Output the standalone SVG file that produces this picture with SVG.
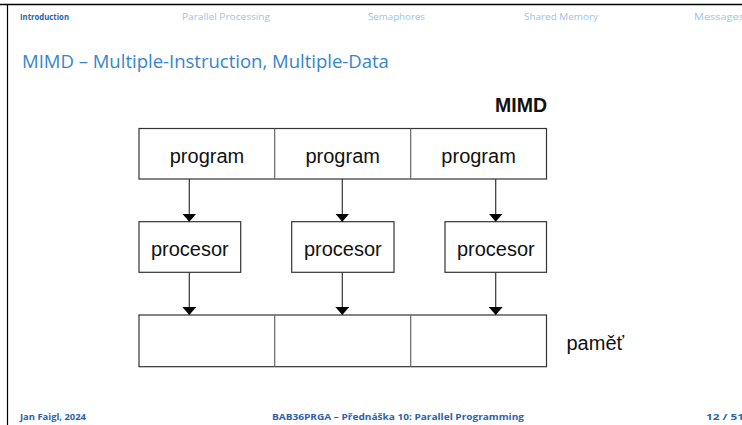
<svg xmlns="http://www.w3.org/2000/svg" width="742" height="425" viewBox="0 0 742 425">
<style>
.hdr{font-family:"Open Sans","DejaVu Sans",sans-serif;font-size:9px;fill:#9cc3e8}
.cur{fill:#2a64ad}
.ttl{font-family:"Open Sans","DejaVu Sans",sans-serif;font-size:18.5px;fill:#3584d1}
.ftr{font-family:"Open Sans","DejaVu Sans",sans-serif;font-size:9px;fill:#2a64ad;font-weight:bold}
.box{fill:#fff;stroke:#333;stroke-width:1.2}
.div{stroke:#666;stroke-width:1.2}
.lbl{font-family:"Liberation Sans",Arial,sans-serif;font-size:20px;fill:#111;text-anchor:middle}
.con{stroke:#333;stroke-width:1.2;fill:none;marker-end:url(#ah)}
</style>
<defs>
<marker id="ah" viewBox="0 0 8 14" refX="8" refY="7" markerUnits="userSpaceOnUse" markerWidth="8" markerHeight="14" orient="auto">
<path d="M0,0 L8,7 L0,14 Z" fill="#000"/>
</marker>
</defs>
<rect width="742" height="425" fill="#fff"/>
<line x1="0" y1="4.5" x2="742" y2="4.5" stroke="#000" stroke-width="1.5"/>
<line x1="7.5" y1="4" x2="7.5" y2="425" stroke="#000" stroke-width="1.2"/>
<g id="header">
<text class="hdr cur" x="20" y="20" textLength="49" lengthAdjust="spacingAndGlyphs" font-weight="bold">Introduction</text>
<text class="hdr" x="182" y="20" textLength="88" lengthAdjust="spacingAndGlyphs">Parallel Processing</text>
<text class="hdr" x="368" y="20" textLength="57" lengthAdjust="spacingAndGlyphs">Semaphores</text>
<text class="hdr" x="524" y="20" textLength="74" lengthAdjust="spacingAndGlyphs">Shared Memory</text>
<text class="hdr" x="694" y="20" textLength="50" lengthAdjust="spacingAndGlyphs">Messages</text>
</g>
<text class="ttl" x="22" y="68">MIMD – Multiple-Instruction, Multiple-Data</text>
<g id="mimd-label"><text x="547" y="111.5" font-family="Liberation Sans,Arial,sans-serif" font-size="19.5" font-weight="bold" text-anchor="end" fill="#111">MIMD</text></g>
<g id="programs">
<rect class="box" x="139" y="128.5" width="407.5" height="50.5"/>
<line class="div" x1="274.7" y1="128.5" x2="274.7" y2="179"/>
<line class="div" x1="410.7" y1="128.5" x2="410.7" y2="179"/>
<text class="lbl" x="207" y="162.5">program</text>
<text class="lbl" x="342.7" y="162.5">program</text>
<text class="lbl" x="478.6" y="162.5">program</text>
</g>
<g id="procesor1"><rect class="box" x="139" y="221.7" width="101.7" height="50.6"/><text class="lbl" x="189.8" y="256">procesor</text></g>
<g id="procesor2"><rect class="box" x="291.7" y="221.7" width="102.3" height="50.6"/><text class="lbl" x="342.8" y="256">procesor</text></g>
<g id="procesor3"><rect class="box" x="445" y="221.7" width="101.5" height="50.6"/><text class="lbl" x="495.8" y="256">procesor</text></g>
<g id="memory">
<rect class="box" x="139" y="315" width="407.5" height="51.7"/>
<line class="div" x1="274.7" y1="315" x2="274.7" y2="366.7"/>
<line class="div" x1="410.7" y1="315" x2="410.7" y2="366.7"/>
<text x="566.5" y="350" font-family="Liberation Sans,Arial,sans-serif" font-size="20" fill="#111">paměť</text>
</g>
<g id="connectors">
<line class="con" x1="189.3" y1="179" x2="189.3" y2="221.7"/>
<line class="con" x1="342.3" y1="179" x2="342.3" y2="221.7"/>
<line class="con" x1="495.7" y1="179" x2="495.7" y2="221.7"/>
<line class="con" x1="189.3" y1="272.3" x2="189.3" y2="315"/>
<line class="con" x1="342.3" y1="272.3" x2="342.3" y2="315"/>
<line class="con" x1="495.7" y1="272.3" x2="495.7" y2="315"/>
</g>
<g id="footer">
<text class="ftr" x="20" y="420" textLength="66" lengthAdjust="spacingAndGlyphs">Jan Faigl, 2024</text>
<text class="ftr" x="272" y="420" textLength="252" lengthAdjust="spacingAndGlyphs">BAB36PRGA – Přednáška 10: Parallel Programming</text>
<text class="ftr" x="706" y="420" textLength="38" lengthAdjust="spacingAndGlyphs">12 / 51</text>
</g>
</svg>
